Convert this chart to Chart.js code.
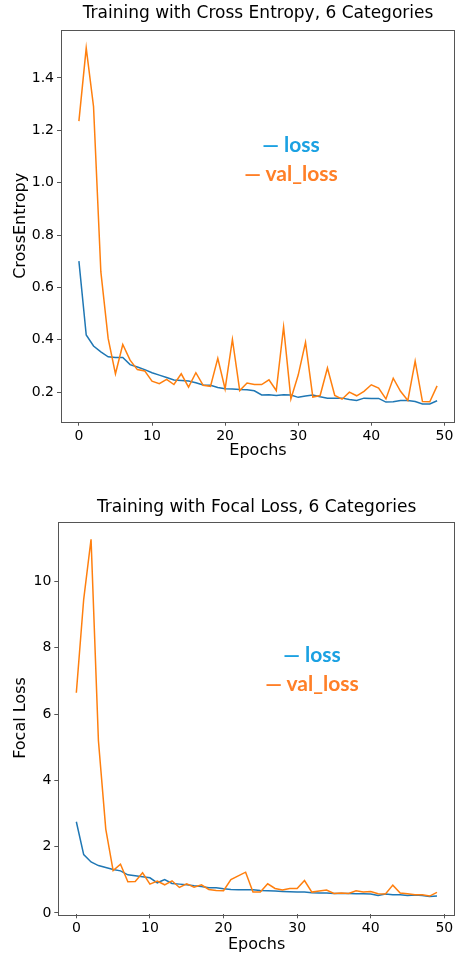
<!DOCTYPE html>
<html>
<head>
<meta charset="utf-8">
<script src="https://cdn.jsdelivr.net/npm/chart.js@4.4.1/dist/chart.umd.min.js"></script>
<style>
  html, body { margin: 0; padding: 0; background: #fff; }
  body { width: 457px; height: 956px; position: relative; overflow: hidden; }
  .box { position: absolute; left: 0; width: 457px; height: 466px; }
  .legend {
    position: absolute; width: 200px; text-align: center;
    font-family: 'Lato', sans-serif; font-weight: 700; font-size: 21px;
    line-height: 29px; white-space: nowrap;
  }
  .legend .l1 { color: #1ba1e2; }
  .legend .l2 { color: #ff7f27; }
</style>
</head>
<body>
<div class="box" style="top:0"><canvas id="ceChart" width="457" height="466"></canvas></div>
<div class="box" style="top:490px"><canvas id="focalChart" width="457" height="466"></canvas></div>
<div class="legend" style="left:191px; top:129px"><div class="l1">— loss</div><div class="l2">— val_loss</div></div>
<div class="legend" style="left:212px; top:639px"><div class="l1">— loss</div><div class="l2">— val_loss</div></div>
<script>
const epochs = [0,1,2,3,4,5,6,7,8,9,10,11,12,13,14,15,16,17,18,19,20,21,22,23,24,
  25,26,27,28,29,30,31,32,33,34,35,36,37,38,39,40,41,42,43,44,45,46,47,48,49];
const xTicks = [0, 10, 20, 30, 40, 50];

// cross entropy run
const ceLoss = [0.700,0.418,0.376,0.354,0.335,0.332,0.332,0.305,0.296,0.286,
  0.274,0.265,0.256,0.246,0.244,0.242,0.236,0.227,0.226,0.218,
  0.213,0.212,0.210,0.209,0.205,0.189,0.190,0.187,0.190,0.189,
  0.180,0.185,0.189,0.182,0.177,0.177,0.177,0.172,0.168,0.177,
  0.176,0.176,0.162,0.163,0.168,0.168,0.164,0.155,0.155,0.167];
const ceValLoss = [1.235,1.514,1.291,0.660,0.405,0.270,0.382,0.322,0.286,0.281,
  0.242,0.232,0.249,0.229,0.270,0.219,0.274,0.226,0.222,0.329,
  0.212,0.401,0.206,0.235,0.229,0.229,0.247,0.206,0.449,0.174,
  0.265,0.390,0.181,0.187,0.292,0.187,0.173,0.200,0.186,0.203,
  0.228,0.215,0.174,0.253,0.203,0.168,0.318,0.164,0.163,0.224];
const ceTicks = [0.2, 0.4, 0.6, 0.8, 1.0, 1.2, 1.4];

// focal loss run
const focalLoss = [2.75,1.76,1.54,1.43,1.37,1.31,1.27,1.15,1.12,1.09,
  1.06,0.91,1.01,0.89,0.87,0.85,0.82,0.80,0.76,0.76,
  0.73,0.71,0.70,0.70,0.70,0.68,0.67,0.66,0.65,0.64,
  0.63,0.63,0.61,0.60,0.60,0.59,0.59,0.59,0.58,0.58,
  0.57,0.53,0.57,0.55,0.55,0.53,0.54,0.53,0.50,0.51];
const focalValLoss = [6.64,9.46,11.27,5.20,2.53,1.28,1.47,0.94,0.95,1.21,
  0.87,0.96,0.85,0.97,0.77,0.88,0.78,0.85,0.71,0.68,
  0.67,1.01,1.12,1.23,0.63,0.63,0.88,0.74,0.69,0.74,
  0.74,0.98,0.63,0.66,0.69,0.59,0.60,0.59,0.67,0.63,
  0.65,0.58,0.57,0.84,0.60,0.58,0.55,0.55,0.51,0.62];
const focalTicks = [0, 2, 4, 6, 8, 10];

const FONT = "'DejaVu Sans', sans-serif";
const SPINE = '#555';

// matplotlib style box around the plot
const spines = {
  id: 'spines',
  afterDatasetsDraw(chart) {
    const { ctx, chartArea: a } = chart;
    ctx.save();
    ctx.strokeStyle = SPINE;
    ctx.lineWidth = 1;
    ctx.strokeRect(Math.round(a.left) + 0.5, Math.round(a.top) + 0.5,
      Math.round(a.right - a.left) - 1, Math.round(a.bottom - a.top));
    ctx.restore();
  }
};

function makeChart(id, cfg) {
  const tickOpts = { color: '#000', font: { family: FONT, size: 14 } };
  const gridOpts = { display: true, drawOnChartArea: false, drawTicks: true, tickLength: 4, color: SPINE };
  new Chart(document.getElementById(id), {
    type: 'line',
    data: {
      labels: epochs,
      datasets: [
        { label: 'loss', data: cfg.loss, borderColor: '#1f77b4', borderWidth: 1.5,
          pointRadius: 0, tension: 0, fill: false, order: 1 },
        { label: 'val_loss', data: cfg.val, borderColor: '#ff7f0e', borderWidth: 1.5,
          pointRadius: 0, tension: 0, fill: false, order: 0 }
      ]
    },
    options: {
      responsive: false,
      animation: false,
      devicePixelRatio: 1,
      layout: { padding: { left: 0, right: 2, top: 0, bottom: 0 } },
      plugins: {
        legend: { display: false },
        tooltip: { enabled: false },
        title: {
          display: true, text: cfg.title, color: '#000', fullSize: false,
          font: { family: FONT, size: 17, weight: 'normal' },
          padding: cfg.titlePad
        }
      },
      scales: {
        x: {
          type: 'linear', min: -2.45, max: 51.45,
          afterBuildTicks: s => { s.ticks = xTicks.map(v => ({ value: v })); },
          afterFit: s => { s.height = cfg.xHeight; },
          ticks: { ...tickOpts, padding: 2, maxRotation: 0, callback: v => String(v) },
          grid: gridOpts,
          border: { display: false },
          title: { display: true, text: 'Epochs', color: '#000',
            font: { family: FONT, size: 16 }, padding: { top: 0, bottom: cfg.xTitlePad } }
        },
        y: {
          min: cfg.yMin, max: cfg.yMax,
          afterBuildTicks: s => { s.ticks = cfg.ticks.map(v => ({ value: v })); },
          afterFit: s => { s.width = cfg.yWidth; },
          ticks: { ...tickOpts, padding: 3, callback: cfg.fmt },
          grid: gridOpts,
          border: { display: false },
          title: { display: true, text: cfg.yTitle, color: '#000',
            font: { family: FONT, size: 16 }, padding: { top: 11, bottom: 0 } }
        }
      }
    },
    plugins: [spines]
  });
}

makeChart('ceChart', {
  title: 'Training with Cross Entropy, 6 Categories',
  loss: ceLoss, val: ceValLoss, ticks: ceTicks,
  yMin: 0.087, yMax: 1.583, yTitle: 'CrossEntropy',
  fmt: v => v.toFixed(1),
  titlePad: { top: 3.6, bottom: 6.0 },
  yWidth: 61, xHeight: 44.3, xTitlePad: 5.6
});

makeChart('focalChart', {
  title: 'Training with Focal Loss, 6 Categories',
  loss: focalLoss, val: focalValLoss, ticks: focalTicks,
  yMin: -0.04, yMax: 11.8, yTitle: 'Focal Loss',
  fmt: v => String(v),
  titlePad: { top: 7.0, bottom: 4.3 },
  yWidth: 58.3, xHeight: 41.7, xTitlePad: 2
});
</script>
</body>
</html>
